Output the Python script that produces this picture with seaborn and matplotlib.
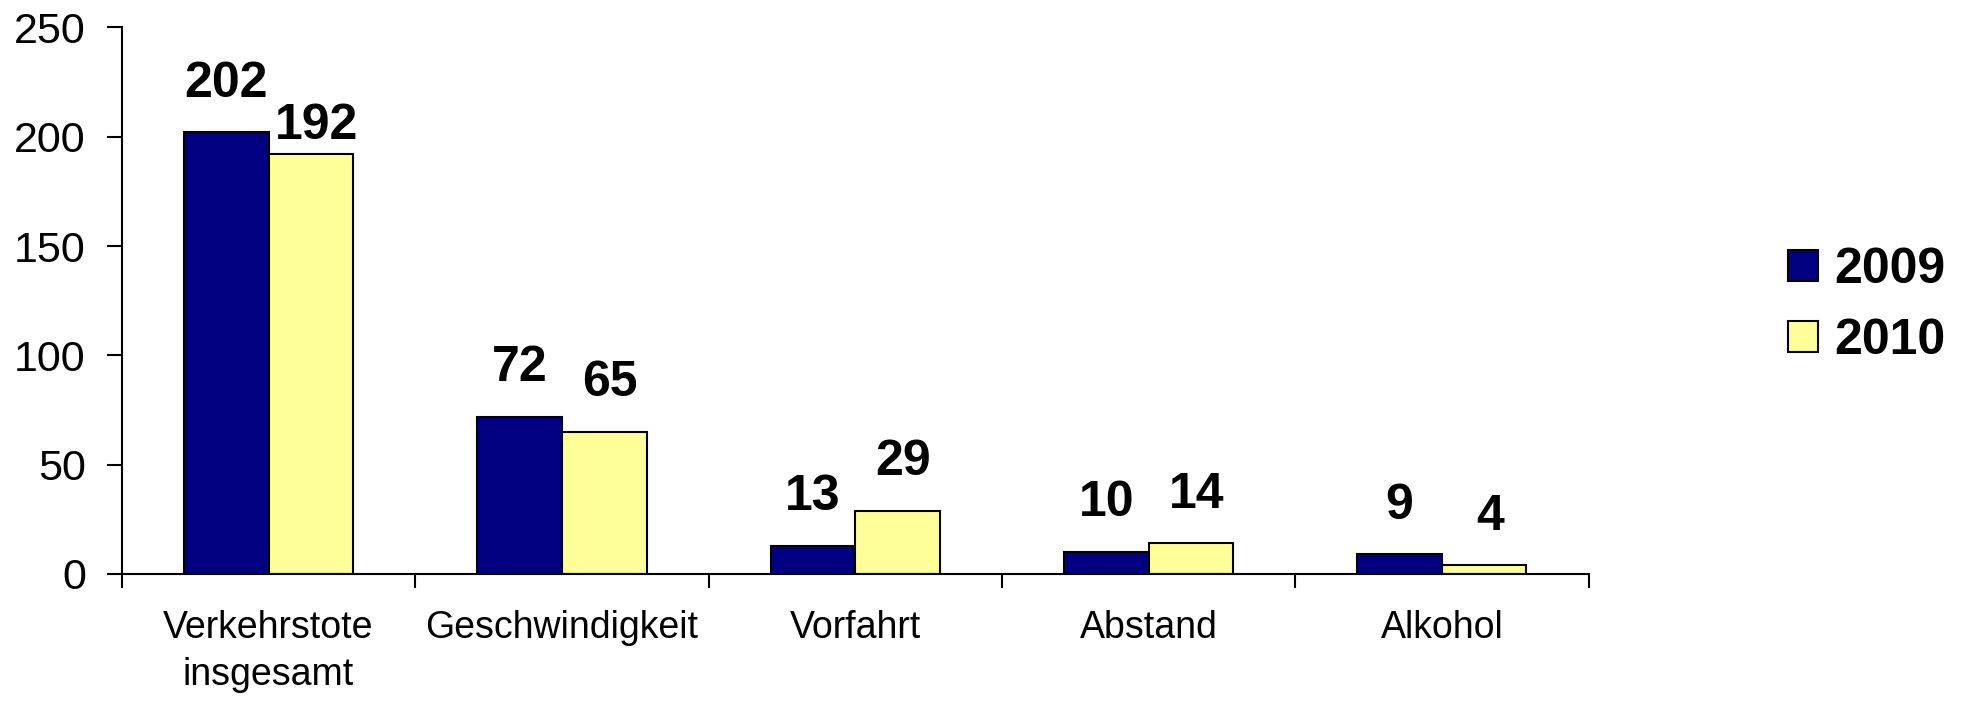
import pandas as pd
import matplotlib
matplotlib.use("Agg")
import matplotlib.pyplot as plt
import seaborn as sns

# ---------------------------
# Data
# ---------------------------
categories = ["Verkehrstote\ninsgesamt", "Geschwindigkeit", "Vorfahrt", "Abstand", "Alkohol"]
years = ["2009", "2010"]
values_2009 = [202, 72, 13, 10, 9]
values_2010 = [192, 65, 29, 14, 4]
colors = ["#000080", "#FFFF99"]

df = pd.DataFrame({
    "Kategorie": categories * 2,
    "Jahr": [years[0]] * len(categories) + [years[1]] * len(categories),
    "Wert": values_2009 + values_2010,
})

sns.set_style("white")
plt.rcParams["font.family"] = ["Liberation Sans", "DejaVu Sans"]
plt.rcParams["text.color"] = "black"
plt.rcParams["xtick.color"] = "black"
plt.rcParams["ytick.color"] = "black"

fig = plt.figure(figsize=(19.66, 7.04), dpi=100)
ax = fig.add_axes([0.062, 0.1847, 0.746, 0.7763])

sns.barplot(
    data=df, x="Kategorie", y="Wert", hue="Jahr",
    palette=colors, width=0.577, gap=0, edgecolor="black", linewidth=1.5,
    saturation=1, legend=True, ax=ax,
)

ax.set_xlim(-0.5, len(categories) - 0.5)
ax.set_ylim(0, 250)
ax.set_yticks(range(0, 251, 50))
ax.set_xlabel("")
ax.set_ylabel("")

for side in ["top", "right"]:
    ax.spines[side].set_visible(False)
for side in ["left", "bottom"]:
    ax.spines[side].set_linewidth(1.5)
    ax.spines[side].set_color("black")

# labels at category centres, tick marks at the boundaries
ax.set_xticks(range(len(categories)))
ax.set_xticklabels(categories, fontsize=27, linespacing=1.4)
ax.set_xticks([i - 0.5 for i in range(len(categories) + 1)], minor=True)
ax.tick_params(axis="x", which="major", bottom=True, length=0, pad=26)
ax.tick_params(axis="x", which="minor", bottom=True, length=10, width=1.5, direction="out")
ax.tick_params(axis="y", left=True, length=11, width=1.5, direction="out", pad=15, labelsize=31)

# value labels
for container, vals in zip(ax.containers, [values_2009, values_2010]):
    for bar, v in zip(container, vals):
        offset = 20 if v == 192 else 35
        dx = 0 if container is ax.containers[0] else 4
        ax.annotate(
            str(v),
            (bar.get_x() + bar.get_width() / 2, bar.get_height()),
            xytext=(dx, offset), textcoords="offset points",
            ha="center", va="center", fontsize=36, fontweight="bold",
        )

ax.legend_.remove()
handles = [plt.Rectangle((0, 0), 1, 1, facecolor=c, edgecolor="black", linewidth=1.5) for c in colors]
fig.legend(
    handles, years, loc="center left", bbox_to_anchor=(0.9096, 0.566),
    frameon=False, prop={"size": 36, "weight": "bold"},
    handlelength=0.6, handleheight=0.6, handletextpad=0.32,
    labelspacing=0.5, borderpad=0, borderaxespad=0,
)

fig.savefig("out.png", dpi=100)
